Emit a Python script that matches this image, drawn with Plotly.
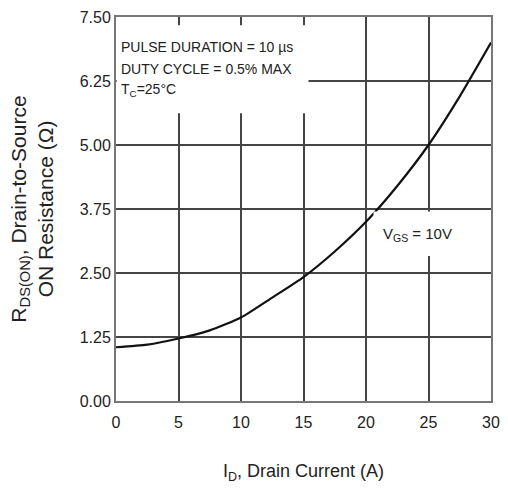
import plotly.graph_objects as go

# Drain current (A) and on-resistance (ohm) along the VGS = 10 V curve
drain_current = [0, 2.5, 5, 7.5, 10, 12.5, 15, 17.5, 20, 22.5, 25, 27.5, 30]
r_ds_on = [1.05, 1.10, 1.22, 1.38, 1.63, 2.02, 2.42, 2.92, 3.50, 4.20, 5.00, 5.95, 7.00]

x_ticks = [0, 5, 10, 15, 20, 25, 30]
y_ticks = [0.0, 1.25, 2.5, 3.75, 5.0, 6.25, 7.5]
y_tick_text = ["0.00", "1.25", "2.50", "3.75", "5.00", "6.25", "7.50"]

FONT = "Liberation Sans, Arial, Helvetica, sans-serif"
GRID = "#454545"
TEXT = "#222222"

fig = go.Figure()
fig.add_trace(go.Scatter(
    x=drain_current, y=r_ds_on, mode="lines",
    line=dict(color="#111111", width=2.2, shape="spline", smoothing=0.6),
    hoverinfo="skip", showlegend=False,
))

# white panels behind the condition notes and the curve label
fig.add_shape(type="rect", x0=0.05, x1=15.4, y0=5.62, y1=7.34,
              fillcolor="white", line=dict(width=0), layer="above")
fig.add_shape(type="rect", x0=20.6, x1=26.1, y0=2.83, y1=3.70,
              fillcolor="white", line=dict(width=0), layer="above")

notes = ["PULSE DURATION = 10 µs", "DUTY CYCLE = 0.5% MAX", "T<sub>C</sub>=25°C"]
for i, t in enumerate(notes):
    fig.add_annotation(x=0.25, y=6.91 - i * 0.42, text=t, showarrow=False,
                       xanchor="left", yanchor="middle",
                       font=dict(family=FONT, size=14, color=TEXT))

fig.add_annotation(x=21.2, y=3.25, text="V<sub>GS</sub> = 10V", showarrow=False,
                   xanchor="left", yanchor="middle",
                   font=dict(family=FONT, size=15, color=TEXT))

fig.add_annotation(xref="paper", yref="paper", x=-0.225, y=0.5,
                   text="R<sub>DS(ON)</sub>, Drain-to-Source<br>ON Resistance (Ω)",
                   textangle=-90, showarrow=False, xanchor="center", yanchor="middle",
                   font=dict(family=FONT, size=21, color=TEXT))

fig.update_layout(
    width=508, height=489,
    margin=dict(l=116, r=8, t=17, b=88),
    paper_bgcolor="white", plot_bgcolor="white",
    font=dict(family=FONT, color=TEXT),
    xaxis=dict(
        range=[0, 30], tickvals=x_ticks, ticks="", showgrid=True,
        gridcolor=GRID, gridwidth=2, showline=True, linecolor="#777777",
        linewidth=2, mirror=True, zeroline=False, ticklabelstandoff=6,
        tickfont=dict(family=FONT, size=16, color=TEXT),
        title=dict(text="I<sub>D</sub>, Drain Current (A)", standoff=34,
                   font=dict(family=FONT, size=18, color=TEXT)),
    ),
    yaxis=dict(
        range=[0, 7.5], tickvals=y_ticks, ticktext=y_tick_text, ticks="",
        showgrid=True, gridcolor=GRID, gridwidth=2, showline=True,
        linecolor="#777777", linewidth=2, mirror=True, zeroline=False,
        tickfont=dict(family=FONT, size=16, color=TEXT),
    ),
)

fig.write_html("out.html")
